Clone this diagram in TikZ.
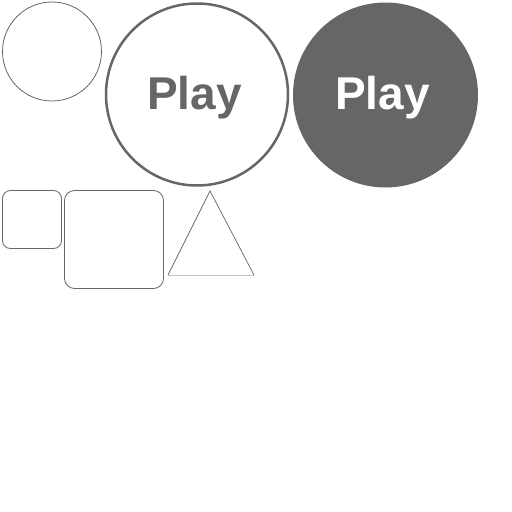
\documentclass[tikz,border=0pt]{standalone}
\usepackage{fontspec}
\setmainfont{Liberation Sans}
\definecolor{dgray}{HTML}{666666}
\begin{document}
\begin{tikzpicture}[x=1pt,y=-1pt,
  thinshape/.style={draw=dgray,line width=0.8pt},
  playtext/.style={font=\fontsize{46}{46}\selectfont\bfseries,anchor=base,inner sep=0pt}]
\useasboundingbox (0,0) rectangle (512,512);
\draw[thinshape] (52,51.5) circle (49.5);
\node[circle,draw=dgray,line width=2.5pt,minimum size=182pt,inner sep=0pt] (b1) at (197,94.5) {};
\node[circle,fill=dgray,minimum size=185pt,inner sep=0pt] (b2) at (385.5,95) {};
\node[playtext,text=dgray] (t1) at (194.5,109) {Play};
\node[playtext,text=white] (t2) at (382.5,109) {Play};
\draw[thinshape,rounded corners=8pt] (2.5,190.5) rectangle (61.5,248.5);
\draw[thinshape,rounded corners=10pt] (64.5,190.5) rectangle (163.5,288.5);
\draw[draw=dgray,line width=0.7pt] (168,275) -- (210,191) -- (254,275);
\draw[draw=dgray!40,line width=0.7pt] (168,275) -- (254,275);
\end{tikzpicture}
\end{document}
